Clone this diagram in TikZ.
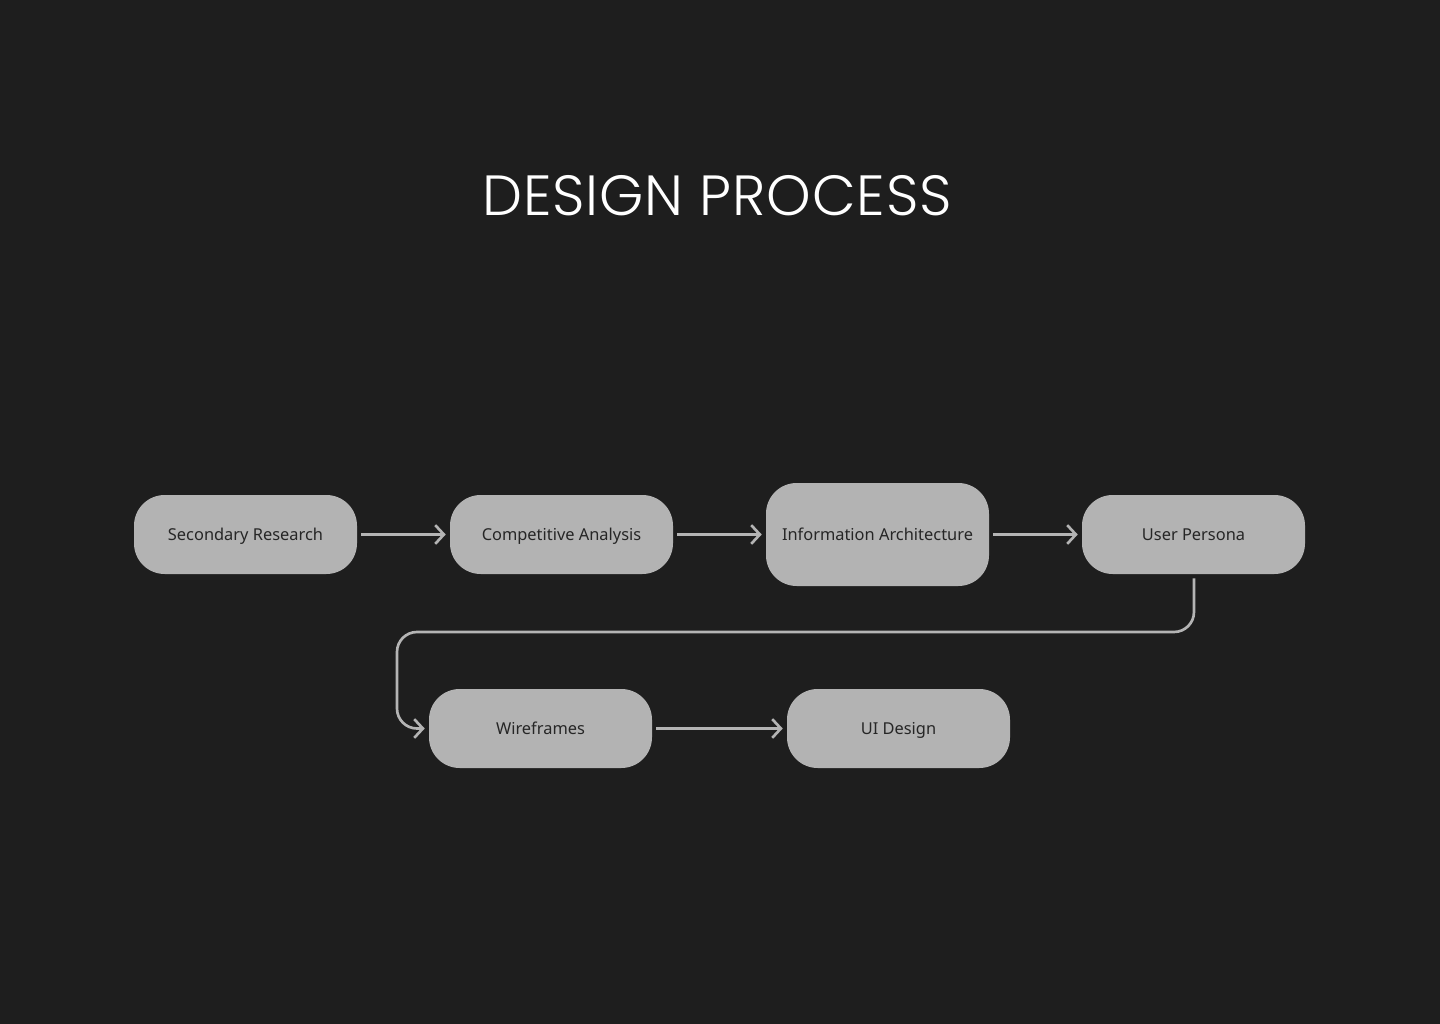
\documentclass[tikz,border=0pt]{standalone}
\usepackage{fontspec}
\setmainfont{Noto Sans}
\newfontfamily\titlefont[LetterSpace=1.5]{Poppins Light}
\usetikzlibrary{arrows.meta}
\definecolor{bg}{HTML}{1E1E1E}
\definecolor{boxfill}{HTML}{B3B3B3}
\definecolor{boxtext}{HTML}{262626}
\definecolor{linecol}{HTML}{B4B4B4}
\begin{document}
\begin{tikzpicture}[x=0.75pt,y=-0.75pt,
  stepbox/.style={fill=boxfill, rounded corners=23pt, minimum width=167.25pt,
    minimum height=59.25pt, inner sep=0pt, text=boxtext, text height=8.8pt, text depth=0pt,
    font=\fontsize{12.3}{14}\selectfont},
  flow/.style={draw=linecol, line width=2pt,
    -{Straight Barb[length=6.5pt,width=14pt,line width=2pt]}}]
\fill[bg] (0,0) rectangle (1440,1024);
\useasboundingbox (0,0) rectangle (1440,1024);
\node[text=white, font=\titlefont\fontsize{42.5}{50}\selectfont] (title) at (717,196) {DESIGN PROCESS};
\node[stepbox] (sr) at (245.5,534.5) {Secondary Research};
\node[stepbox] (ca) at (561.5,534.5) {Competitive Analysis};
\node[stepbox, minimum height=77.25pt] (ia) at (877.5,534.5) {Information Architecture};
\node[stepbox] (up) at (1193.5,534.5) {User Persona};
\node[stepbox] (wf) at (540.5,728.5) {Wireframes};
\node[stepbox] (ui) at (898.5,728.5) {UI Design};
\coordinate (c1) at (1194,632);
\coordinate (c2) at (397,632);
\draw[flow, shorten <=3pt, shorten >=3pt] (sr) -- (ca);
\draw[flow, shorten <=3pt, shorten >=3pt] (ca) -- (ia);
\draw[flow, shorten <=3pt, shorten >=3pt] (ia) -- (up);
\draw[flow, shorten <=3pt, shorten >=3pt] (wf) -- (ui);
\draw[flow, rounded corners=15pt, shorten <=3pt, shorten >=3pt] (up.south -| c1) -- (c1) -- (c2) |- (wf.west);
\end{tikzpicture}
\end{document}
